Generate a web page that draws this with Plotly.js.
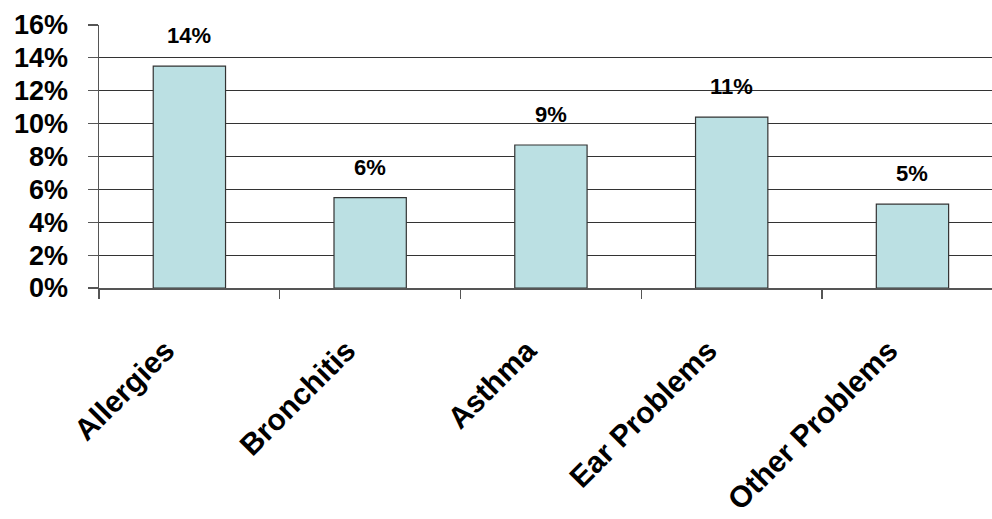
<!DOCTYPE html>
<html>
<head>
<meta charset="utf-8">
<script src="https://cdn.plot.ly/plotly-3.0.1.min.js"></script>
<style>html,body{margin:0;padding:0;background:#fff;overflow:hidden}</style>
</head>
<body>
<div id="chart" style="width:992px;height:519px"></div>
<script>
var categories = ["Allergies", "Bronchitis", "Asthma", "Ear Problems", "Other Problems"];
var values = [13.5, 5.5, 8.7, 10.4, 5.1];
var valueLabels = ["14%", "6%", "9%", "11%", "5%"];
var yTickValues = [0, 2, 4, 6, 8, 10, 12, 14, 16];
var yTickLabels = ["0%", "2%", "4%", "6%", "8%", "10%", "12%", "14%", "16%"];

var fontFam = "Arial, 'Liberation Sans', sans-serif";

var trace = {
  type: "bar",
  x: categories,
  y: values,
  width: 0.4,
  marker: {color: "#BBE0E3", line: {color: "#333333", width: 1.2}},
  hoverinfo: "none"
};

var annotations = categories.map(function (c, i) {
  return {
    x: c, y: values[i], xref: "x", yref: "y",
    text: valueLabels[i], showarrow: false,
    yanchor: "bottom", yshift: 16,
    font: {family: fontFam, size: 22, color: "#000", weight: "bold"}
  };
});

var layout = {
  width: 992, height: 519,
  margin: {l: 99, r: 0, t: 25, b: 231},
  paper_bgcolor: "#fff", plot_bgcolor: "#fff",
  showlegend: false,
  annotations: annotations,
  xaxis: {
    type: "category",
    range: [-0.5, 4.44],
    tickvals: categories,
    ticktext: categories.map(function (c) { return c + "\u00a0\u00a0\u00a0\u00a0"; }),
    showline: true, linecolor: "#555", linewidth: 1.5,
    ticks: "outside", tickson: "boundaries", ticklen: 9, tickcolor: "#555", tickwidth: 1.2,
    tickangle: -45,
    ticklabelstandoff: 8,
    tickfont: {family: fontFam, size: 30, color: "#000", weight: "bold"},
    showgrid: false, zeroline: false, fixedrange: true
  },
  yaxis: {
    range: [0, 16],
    tickvals: yTickValues, ticktext: yTickLabels,
    showline: true, linecolor: "#555", linewidth: 1.5,
    ticks: "outside", ticklen: 10, tickcolor: "#555", tickwidth: 1.2,
    ticklabelstandoff: 14,
    showgrid: true, gridcolor: "#333", gridwidth: 1.2,
    zeroline: false,
    tickfont: {family: fontFam, size: 27, color: "#000", weight: "bold"},
    fixedrange: true
  }
};

Plotly.newPlot("chart", [trace], layout, {displayModeBar: false, staticPlot: true});
</script>
</body>
</html>
